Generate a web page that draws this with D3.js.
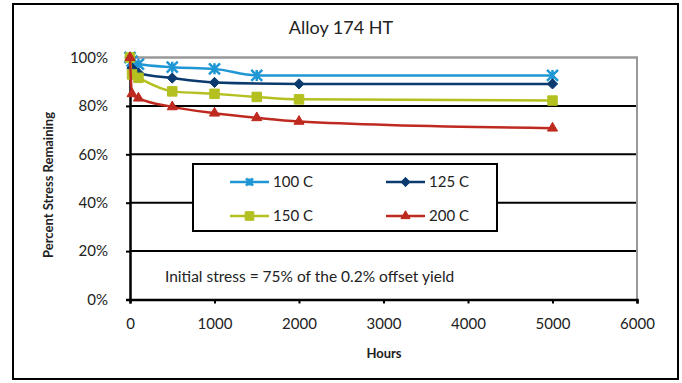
<!DOCTYPE html>
<html><head><meta charset="utf-8">
<script src="https://cdn.jsdelivr.net/npm/d3@7"></script>
<style>
body{margin:0;background:#fff;}
text{font-family:Lato,"Open Sans",sans-serif;fill:#222;}
</style></head>
<body><svg id="c" width="682" height="383"></svg>
<script>
const title = "Alloy 174 HT";
const xLabel = "Hours";
const yLabel = "Percent Stress Remaining";
const note = "Initial stress = 75% of the 0.2% offset yield";
const xTicks = [0,1000,2000,3000,4000,5000,6000];
const yTicks = [0,20,40,60,80,100];
const seriesNames = ["100 C","125 C","150 C","200 C"];
const seriesColors = ["#1f97d4","#0b3a6e","#b3c020","#be2a1f"];
const seriesMarkers = ["star","diamond","square","triangle"];
const hours100 = [0,24,100,500,1000,1500,5000];
const vals100  = [100,98.5,97.3,96,95.3,92.6,92.6];
const hours125 = [0,24,100,500,1000,2000,5000];
const vals125  = [100,95.6,93.6,91.5,89.7,89.1,89.1];
const hours150 = [0,24,100,500,1000,1500,2000,5000];
const vals150  = [100,93,91.6,86,85,83.7,82.7,82.2];
const hours200 = [0,24,100,500,1000,1500,2000,5000];
const vals200  = [100,85,83.2,79.6,77,75.1,73.6,70.8];
const seriesHours = [hours100,hours125,hours150,hours200];
const seriesVals = [vals100,vals125,vals150,vals200];

const svg = d3.select("#c");
svg.append("rect").attr("x",13).attr("y",4).attr("width",665).attr("height",375)
  .attr("fill","#fff").attr("stroke","#000").attr("stroke-width",2);

const L=130,R=637,T=57.5,B=299.5;
const x = d3.scaleLinear().domain([0,6000]).range([L,R]);
const y = d3.scaleLinear().domain([0,100]).range([B,T]);

svg.append("g").selectAll("line").data(yTicks.filter(d=>d>0&&d<100)).join("line")
  .attr("x1",L).attr("x2",R).attr("y1",d=>y(d)).attr("y2",d=>y(d))
  .attr("stroke","#000").attr("stroke-width",2);
svg.append("line").attr("x1",L).attr("x2",R+1).attr("y1",T).attr("y2",T).attr("stroke","#999").attr("stroke-width",2.5);
svg.append("line").attr("x1",R).attr("x2",R).attr("y1",T).attr("y2",B).attr("stroke","#999").attr("stroke-width",2);

const yAxis = svg.append("g").attr("transform",`translate(${L},0)`)
  .call(d3.axisLeft(y).tickValues(yTicks).tickFormat(d=>d+"%").tickSize(4).tickPadding(18));
yAxis.select(".domain").attr("stroke","#000").attr("stroke-width",2.5);
yAxis.selectAll(".tick line").attr("stroke","#000").attr("stroke-width",2);
yAxis.selectAll("text").attr("font-size",15).attr("fill","#333").style("font-family","Lato,sans-serif");

const xAxis = svg.append("g").attr("transform",`translate(0,${B})`)
  .call(d3.axisBottom(x).tickValues(xTicks).tickFormat(d3.format("d")).tickSize(4).tickPadding(15));
xAxis.select(".domain").attr("stroke","#000").attr("stroke-width",2.5);
xAxis.selectAll(".tick line").attr("stroke","#000").attr("stroke-width",2);
xAxis.selectAll("text").attr("font-size",15).attr("fill","#333").style("font-family","Lato,sans-serif");

function markerPath(type, s){
  if(type==="star"){
    const h=s/2;
    return `M${-h},${-h}L${h},${h}M${-h},${h}L${h},${-h}M0,${-h}L0,${h}`;
  }
  if(type==="diamond") return d3.symbol(d3.symbolDiamond2, s*s*0.55)();
  if(type==="square") return d3.symbol(d3.symbolSquare2, s*s*0.95)();
  if(type==="triangle") return d3.symbol(d3.symbolTriangle2, s*s*0.6)();
}
function drawMarker(g, type, color, cx, cy, s){
  const p = g.append("path").attr("d",markerPath(type,s)).attr("transform",`translate(${cx},${cy})`);
  if(type==="star") p.attr("fill","none").attr("stroke",color).attr("stroke-width",2.5);
  else p.attr("fill",color).attr("stroke",color).attr("stroke-width",1);
}

const line = d3.line().curve(d3.curveMonotoneX).x(d=>x(d[0])).y(d=>y(d[1]));
seriesNames.forEach((n,i)=>{
  const data = seriesHours[i].map((h,j)=>[h,seriesVals[i][j]]);
  const g = svg.append("g");
  g.append("path").attr("d",line(data)).attr("fill","none").attr("stroke",seriesColors[i]).attr("stroke-width",2.5);
  data.forEach(d=>drawMarker(g,seriesMarkers[i],seriesColors[i],x(d[0]),y(d[1]),11));
});

const lg = svg.append("g");
lg.append("rect").attr("x",193).attr("y",164).attr("width",304).attr("height",67)
  .attr("fill","#fff").attr("stroke","#000").attr("stroke-width",2);
const legPos = [[230,182],[386,182],[230,216],[386,216]];
seriesNames.forEach((n,i)=>{
  const [lx,ly]=legPos[i];
  lg.append("line").attr("x1",lx).attr("x2",lx+39).attr("y1",ly).attr("y2",ly).attr("stroke",seriesColors[i]).attr("stroke-width",2.5);
  drawMarker(lg,seriesMarkers[i],seriesColors[i],lx+19.5,ly,i===0?7:10);
  lg.append("text").attr("x",lx+43).attr("y",ly).attr("dy","0.36em").attr("font-size",15).attr("fill","#333").text(n);
});

svg.append("text").attr("x",341).attr("y",28).attr("text-anchor","middle").attr("dy","0.36em").attr("font-size",18).attr("fill","#333").text(title);
svg.append("text").attr("x",165).attr("y",276).attr("dy","0.36em").attr("font-size",15.5).attr("fill","#333").text(note);
svg.append("text").attr("x",384).attr("y",353).attr("text-anchor","middle").attr("dy","0.36em").attr("font-size",13).attr("font-weight","bold").attr("fill","#222").text(xLabel);
svg.append("text").attr("transform","translate(48,185) rotate(-90)").attr("text-anchor","middle").attr("dy","0.36em").attr("font-size",13).attr("font-weight","bold").attr("fill","#222").text(yLabel);
</script></body></html>
